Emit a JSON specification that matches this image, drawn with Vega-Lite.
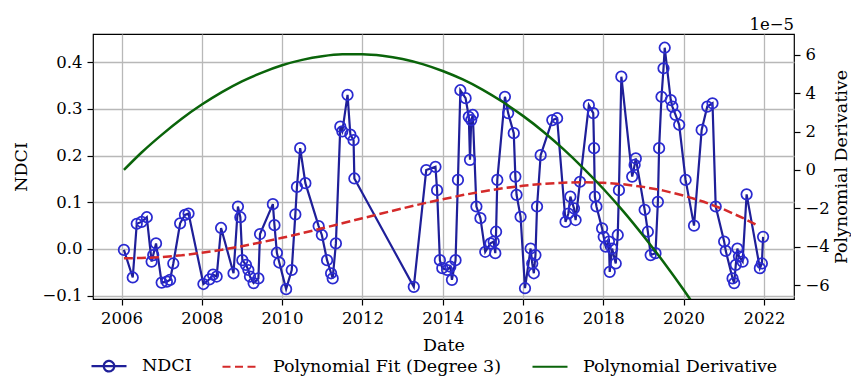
{
  "$schema": "https://vega.github.io/schema/vega-lite/v6.json",
  "width": 701,
  "height": 265,
  "autosize": {"type": "none"},
  "padding": {"left": 93, "top": 34, "right": 57, "bottom": 77},
  "config": {
    "font": "DejaVu Serif",
    "view": {"stroke": "black", "strokeWidth": 1.2},
    "axis": {
      "domain": false,
      "tickColor": "black",
      "tickSize": 6,
      "tickWidth": 1.2,
      "labelPadding": 5,
      "labelColor": "black",
      "labelFontSize": 16.5,
      "labelFont": "DejaVu Serif",
      "titleFont": "DejaVu Serif",
      "titleFontSize": 17.5,
      "titleFontWeight": "normal",
      "titleColor": "black",
      "gridColor": "#b8b8b8",
      "gridWidth": 1.3
    }
  },
  "title": {
    "text": "1e−5",
    "anchor": "end",
    "frame": "group",
    "fontSize": 16.5,
    "fontWeight": "normal",
    "font": "DejaVu Serif",
    "color": "black",
    "baseline": "bottom",
    "offset": 3,
    "dy": 18
  },
  "datasets": {
    "ndci": [
      {"t": 2006.06, "v": -0.002}, {"t": 2006.28, "v": -0.061}, {"t": 2006.38, "v": 0.054}, {"t": 2006.50, "v": 0.058},
      {"t": 2006.63, "v": 0.068}, {"t": 2006.75, "v": -0.027}, {"t": 2006.79, "v": -0.013}, {"t": 2006.86, "v": 0.012},
      {"t": 2007.00, "v": -0.072}, {"t": 2007.13, "v": -0.070}, {"t": 2007.21, "v": -0.066}, {"t": 2007.29, "v": -0.031},
      {"t": 2007.46, "v": 0.055}, {"t": 2007.58, "v": 0.073}, {"t": 2007.67, "v": 0.076}, {"t": 2008.04, "v": -0.075},
      {"t": 2008.19, "v": -0.065}, {"t": 2008.28, "v": -0.055}, {"t": 2008.37, "v": -0.059}, {"t": 2008.48, "v": 0.045},
      {"t": 2008.79, "v": -0.052}, {"t": 2008.90, "v": 0.091}, {"t": 2008.96, "v": 0.068}, {"t": 2009.01, "v": -0.024},
      {"t": 2009.10, "v": -0.034}, {"t": 2009.16, "v": -0.045}, {"t": 2009.20, "v": -0.059}, {"t": 2009.29, "v": -0.073},
      {"t": 2009.41, "v": -0.063}, {"t": 2009.45, "v": 0.032}, {"t": 2009.77, "v": 0.096}, {"t": 2009.81, "v": 0.051},
      {"t": 2009.87, "v": -0.008}, {"t": 2009.93, "v": -0.029}, {"t": 2010.10, "v": -0.086}, {"t": 2010.24, "v": -0.045},
      {"t": 2010.33, "v": 0.074}, {"t": 2010.37, "v": 0.133}, {"t": 2010.45, "v": 0.216}, {"t": 2010.58, "v": 0.141},
      {"t": 2010.91, "v": 0.049}, {"t": 2010.99, "v": 0.030}, {"t": 2011.12, "v": -0.024}, {"t": 2011.22, "v": -0.052},
      {"t": 2011.26, "v": -0.063}, {"t": 2011.34, "v": 0.012}, {"t": 2011.45, "v": 0.262}, {"t": 2011.50, "v": 0.252},
      {"t": 2011.63, "v": 0.330}, {"t": 2011.70, "v": 0.245}, {"t": 2011.78, "v": 0.233}, {"t": 2011.80, "v": 0.151},
      {"t": 2013.28, "v": -0.081}, {"t": 2013.59, "v": 0.169}, {"t": 2013.82, "v": 0.176}, {"t": 2013.86, "v": 0.126},
      {"t": 2013.93, "v": -0.024}, {"t": 2013.99, "v": -0.041}, {"t": 2014.11, "v": -0.045}, {"t": 2014.19, "v": -0.038},
      {"t": 2014.23, "v": -0.066}, {"t": 2014.32, "v": -0.024}, {"t": 2014.38, "v": 0.148}, {"t": 2014.44, "v": 0.340},
      {"t": 2014.57, "v": 0.323}, {"t": 2014.65, "v": 0.283}, {"t": 2014.68, "v": 0.191}, {"t": 2014.71, "v": 0.276},
      {"t": 2014.75, "v": 0.287}, {"t": 2014.84, "v": 0.091}, {"t": 2014.94, "v": 0.066}, {"t": 2015.06, "v": -0.006},
      {"t": 2015.19, "v": 0.012}, {"t": 2015.27, "v": 0.016}, {"t": 2015.31, "v": -0.009}, {"t": 2015.33, "v": 0.037},
      {"t": 2015.36, "v": 0.148}, {"t": 2015.55, "v": 0.326}, {"t": 2015.63, "v": 0.291}, {"t": 2015.77, "v": 0.248},
      {"t": 2015.81, "v": 0.155}, {"t": 2015.84, "v": 0.116}, {"t": 2015.94, "v": 0.069}, {"t": 2016.05, "v": -0.084},
      {"t": 2016.19, "v": 0.001}, {"t": 2016.23, "v": -0.031}, {"t": 2016.27, "v": -0.052}, {"t": 2016.31, "v": -0.013},
      {"t": 2016.35, "v": 0.091}, {"t": 2016.44, "v": 0.201}, {"t": 2016.73, "v": 0.276}, {"t": 2016.85, "v": 0.280},
      {"t": 2017.06, "v": 0.058}, {"t": 2017.13, "v": 0.076}, {"t": 2017.18, "v": 0.112}, {"t": 2017.27, "v": 0.087},
      {"t": 2017.31, "v": 0.062}, {"t": 2017.42, "v": 0.144}, {"t": 2017.64, "v": 0.308}, {"t": 2017.75, "v": 0.291},
      {"t": 2017.77, "v": 0.216}, {"t": 2017.79, "v": 0.112}, {"t": 2017.83, "v": 0.091}, {"t": 2017.97, "v": 0.044},
      {"t": 2018.01, "v": 0.026}, {"t": 2018.06, "v": 0.005}, {"t": 2018.14, "v": 0.016}, {"t": 2018.16, "v": -0.049},
      {"t": 2018.22, "v": 0.001}, {"t": 2018.31, "v": -0.031}, {"t": 2018.36, "v": 0.030}, {"t": 2018.39, "v": 0.126},
      {"t": 2018.45, "v": 0.369}, {"t": 2018.72, "v": 0.155}, {"t": 2018.78, "v": 0.180}, {"t": 2018.81, "v": 0.194},
      {"t": 2019.03, "v": 0.084}, {"t": 2019.11, "v": 0.037}, {"t": 2019.18, "v": -0.013}, {"t": 2019.30, "v": -0.009},
      {"t": 2019.36, "v": 0.101}, {"t": 2019.39, "v": 0.216}, {"t": 2019.45, "v": 0.326}, {"t": 2019.50, "v": 0.387},
      {"t": 2019.53, "v": 0.431}, {"t": 2019.68, "v": 0.319}, {"t": 2019.72, "v": 0.305}, {"t": 2019.80, "v": 0.287},
      {"t": 2019.89, "v": 0.266}, {"t": 2020.05, "v": 0.148}, {"t": 2020.26, "v": 0.050}, {"t": 2020.45, "v": 0.255},
      {"t": 2020.59, "v": 0.305}, {"t": 2020.72, "v": 0.312}, {"t": 2020.80, "v": 0.091}, {"t": 2021.01, "v": 0.016},
      {"t": 2021.05, "v": -0.004}, {"t": 2021.22, "v": -0.063}, {"t": 2021.26, "v": -0.073}, {"t": 2021.30, "v": -0.034},
      {"t": 2021.34, "v": 0.001}, {"t": 2021.38, "v": -0.016}, {"t": 2021.47, "v": -0.027}, {"t": 2021.57, "v": 0.117},
      {"t": 2021.90, "v": -0.041}, {"t": 2021.95, "v": -0.031}, {"t": 2021.98, "v": 0.026}
    ],
    "fit": [
      {"t": 2006.06, "v": -0.020}, {"t": 2006.5, "v": -0.0194}, {"t": 2007, "v": -0.0173}, {"t": 2007.5, "v": -0.0135},
      {"t": 2008, "v": -0.0082}, {"t": 2008.5, "v": -0.0017}, {"t": 2009, "v": 0.006}, {"t": 2009.5, "v": 0.0146},
      {"t": 2010, "v": 0.0239}, {"t": 2010.5, "v": 0.0339}, {"t": 2011, "v": 0.0443}, {"t": 2011.5, "v": 0.055},
      {"t": 2012, "v": 0.0658}, {"t": 2012.5, "v": 0.0765}, {"t": 2013, "v": 0.087}, {"t": 2013.5, "v": 0.0971},
      {"t": 2014, "v": 0.1066}, {"t": 2014.5, "v": 0.1154}, {"t": 2015, "v": 0.1232}, {"t": 2015.5, "v": 0.130},
      {"t": 2016, "v": 0.1355}, {"t": 2016.5, "v": 0.1396}, {"t": 2017, "v": 0.1421}, {"t": 2017.5, "v": 0.1429},
      {"t": 2018, "v": 0.1417}, {"t": 2018.5, "v": 0.1385}, {"t": 2019, "v": 0.133}, {"t": 2019.5, "v": 0.125},
      {"t": 2020, "v": 0.1145}, {"t": 2020.5, "v": 0.1011}, {"t": 2021, "v": 0.0849}, {"t": 2021.5, "v": 0.0655},
      {"t": 2021.85, "v": 0.050}
    ],
    "deriv": [
      {"t": 2006.06, "d": 0.0}, {"t": 2006.5, "d": 0.91}, {"t": 2007, "d": 1.83}, {"t": 2007.5, "d": 2.67},
      {"t": 2008, "d": 3.41}, {"t": 2008.5, "d": 4.06}, {"t": 2009, "d": 4.62}, {"t": 2009.5, "d": 5.08},
      {"t": 2010, "d": 5.46}, {"t": 2010.5, "d": 5.74}, {"t": 2011, "d": 5.93}, {"t": 2011.5, "d": 6.03},
      {"t": 2012, "d": 6.04}, {"t": 2012.5, "d": 5.96}, {"t": 2013, "d": 5.79}, {"t": 2013.5, "d": 5.52},
      {"t": 2014, "d": 5.16}, {"t": 2014.5, "d": 4.72}, {"t": 2015, "d": 4.18}, {"t": 2015.5, "d": 3.54},
      {"t": 2016, "d": 2.82}, {"t": 2016.5, "d": 2.01}, {"t": 2017, "d": 1.10}, {"t": 2017.5, "d": 0.10},
      {"t": 2018, "d": -0.98}, {"t": 2018.5, "d": -2.16}, {"t": 2019, "d": -3.44}, {"t": 2019.5, "d": -4.80},
      {"t": 2020, "d": -6.25}, {"t": 2020.5, "d": -7.80}, {"t": 2021, "d": -9.44}, {"t": 2021.5, "d": -11.17},
      {"t": 2021.85, "d": -12.45}
    ]
  },
  "layer": [
    {
      "layer": [
        {
          "data": {"name": "ndci"},
          "mark": {"type": "line", "strokeWidth": 2.2, "clip": true},
          "encoding": {
            "x": {"field": "t", "type": "quantitative",
              "scale": {"domain": [2005.29, 2022.75], "nice": false, "zero": false},
              "axis": {"title": "Date", "values": [2006, 2008, 2010, 2012, 2014, 2016, 2018, 2020, 2022], "format": "d", "grid": true, "titleY": 46, "titleBaseline": "middle"}},
            "y": {"field": "v", "type": "quantitative",
              "scale": {"domain": [-0.1071, 0.4604], "nice": false, "zero": false},
              "axis": {"title": "NDCI", "values": [-0.1, 0, 0.1, 0.2, 0.3, 0.4], "format": ".1f", "grid": true, "titleX": -72, "titleY": 132.5, "titleBaseline": "middle"}},
            "color": {"datum": "NDCI", "type": "nominal",
              "scale": {"domain": ["NDCI", "Polynomial Fit (Degree 3)", "Polynomial Derivative"], "range": ["#1f1f99", "#d42a2a", "#0a640a"]},
              "legend": {
                "title": null, "orient": "none", "direction": "horizontal", "legendX": -3, "legendY": 313,
                "padding": 0, "symbolType": "stroke", "symbolSize": 1225, "symbolStrokeWidth": 2.2,
                "labelFont": "DejaVu Serif", "labelFontSize": 17.5, "labelColor": "black", "labelOffset": 14, "labelLimit": 0, "columnPadding": 26,
                "encode": {"symbols": {"update": {
                  "shape": {"signal": "datum.value === 'NDCI' ? 'M-1,0H1M0.3,0A0.3,0.3 0 1 1 -0.3,0A0.3,0.3 0 1 1 0.3,0' : 'stroke'"},
                  "strokeDash": {"signal": "datum.value === 'Polynomial Fit (Degree 3)' ? [8,4.5] : [1,0]"},
                  "fill": {"value": "transparent"}
                }}}
              }}
          }
        },
        {
          "data": {"name": "ndci"},
          "mark": {"type": "point", "shape": "circle", "filled": false, "size": 110, "strokeWidth": 1.75, "color": "#2a2ad0", "opacity": 1, "clip": true},
          "encoding": {
            "x": {"field": "t", "type": "quantitative"},
            "y": {"field": "v", "type": "quantitative"}
          }
        },
        {
          "data": {"name": "fit"},
          "mark": {"type": "line", "strokeWidth": 2.5, "strokeDash": [9, 4], "clip": true},
          "encoding": {
            "x": {"field": "t", "type": "quantitative"},
            "y": {"field": "v", "type": "quantitative"},
            "color": {"datum": "Polynomial Fit (Degree 3)", "type": "nominal"}
          }
        }
      ]
    },
    {
      "data": {"name": "deriv"},
      "mark": {"type": "line", "strokeWidth": 2.5, "clip": true, "interpolate": "monotone"},
      "encoding": {
        "x": {"field": "t", "type": "quantitative"},
        "y": {"field": "d", "type": "quantitative",
          "scale": {"domain": [-6.73, 7.09], "nice": false, "zero": false},
          "axis": {"orient": "right", "title": "Polynomial Derivative", "values": [-6, -4, -2, 0, 2, 4, 6], "format": "d", "grid": false, "titleAngle": -90, "titleX": 47, "titleY": 132.5, "titleBaseline": "middle"}},
        "color": {"datum": "Polynomial Derivative", "type": "nominal"}
      }
    }
  ],
  "resolve": {"scale": {"y": "independent"}}
}
